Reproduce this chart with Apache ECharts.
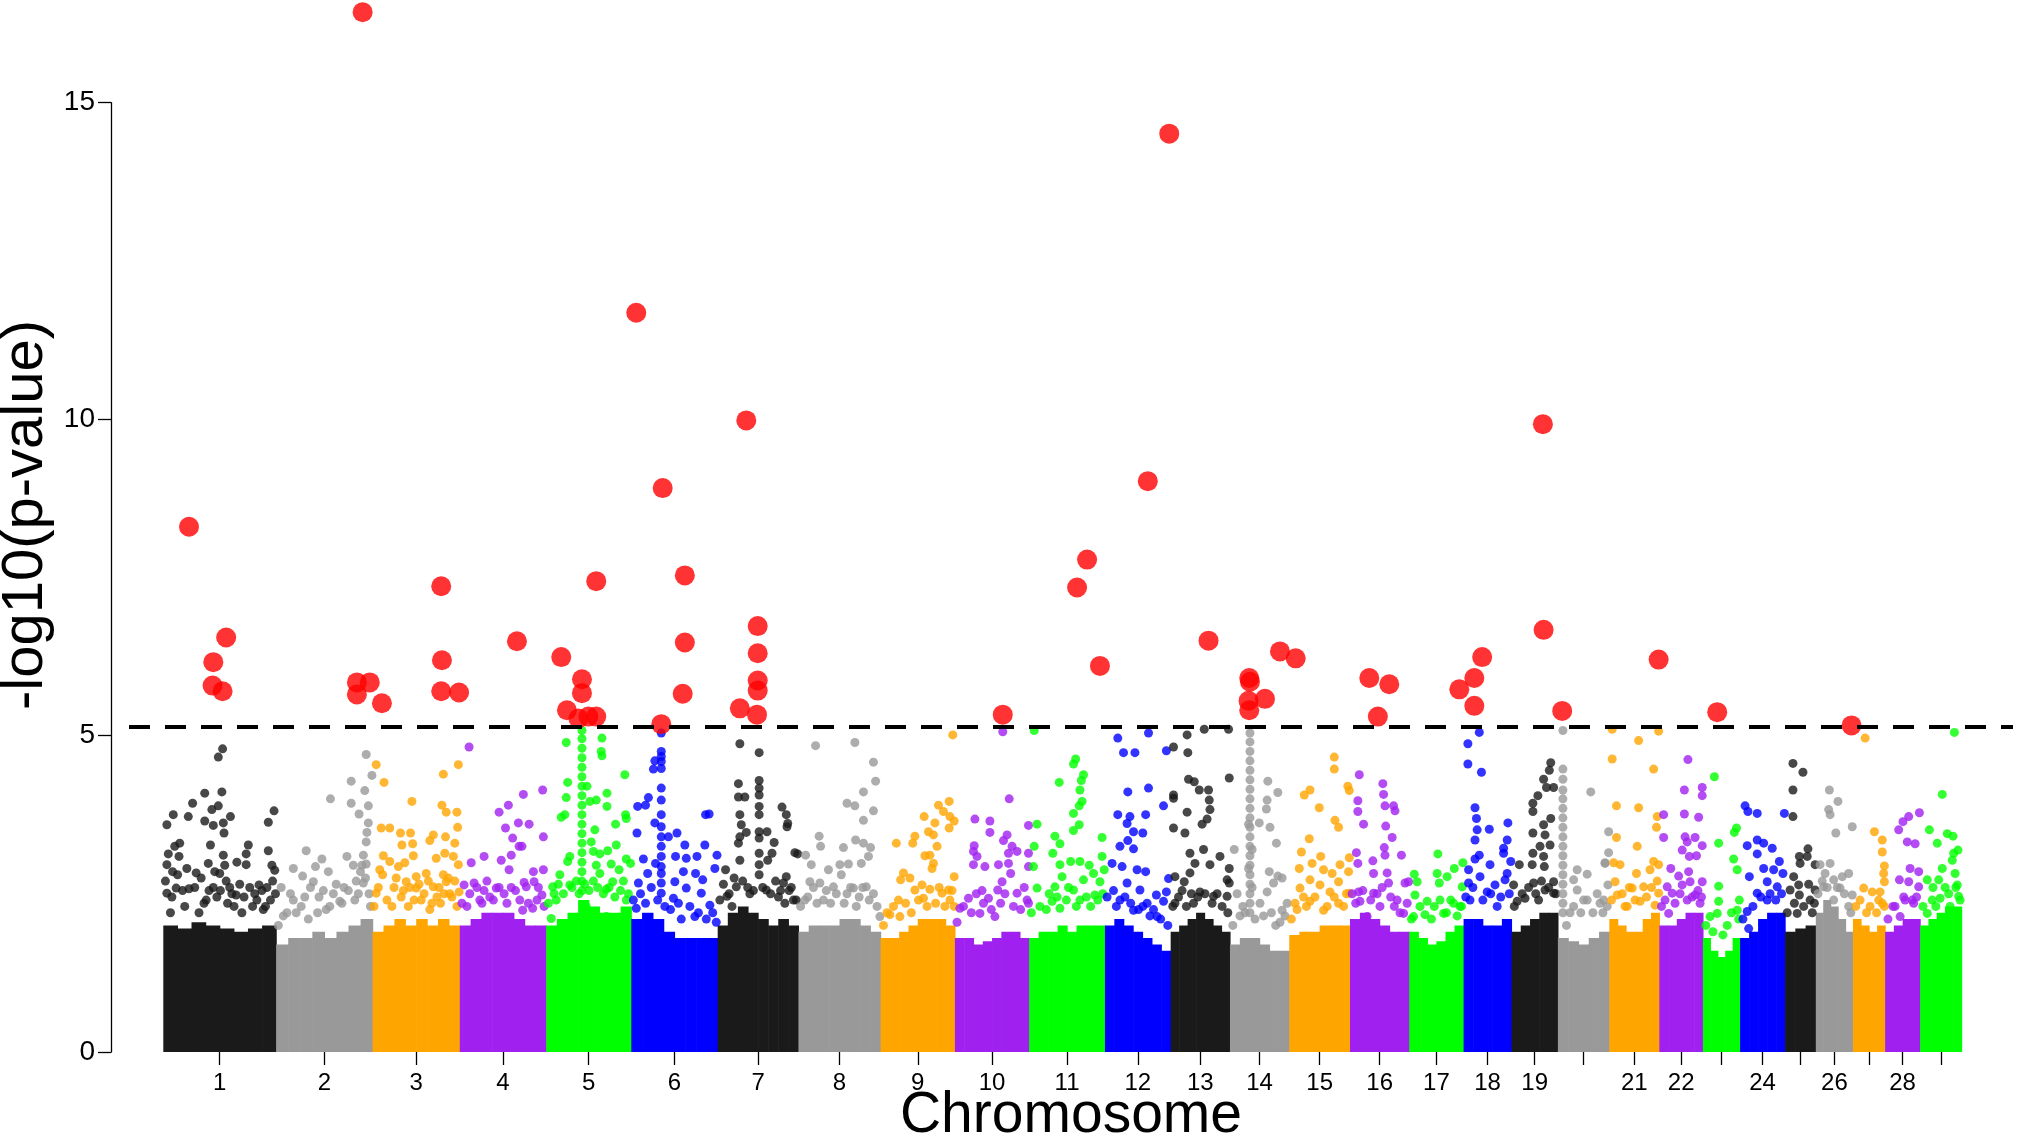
<!DOCTYPE html>
<html>
<head>
<meta charset="utf-8">
<script src="https://cdn.jsdelivr.net/npm/echarts@6/dist/echarts.min.js"></script>
<style>
html,body{margin:0;padding:0;background:#ffffff;}
#chart{width:2017px;height:1138px;}
</style>
</head>
<body>
<div id="chart"></div>
<script>
// ---------------- DATA ----------------
const chromNames = ['1','2','3','4','5','6','7','8','9','10','11','12','13','14','15','16','17','18','19','20','21','22','23','24','25','26','27','28','29'];
const chromLengthsMb = [158,135,122,121,119,121,113,115,104,104,106,92,83,83,85,83,76,67,65,72,70,61,52,63,43,52,45,49,58];
const labelledChroms = ['1','2','3','4','5','6','7','8','9','10','11','12','13','14','15','16','17','18','19','21','22','24','26','28'];
const yTickValues = [0,5,10,15];
const threshold = 5.14;

// height of the dense (solid) band of SNPs, in bins along each chromosome
const coreHeights = [
  [2.0,1.95,2.05,2.0,1.95,1.9,1.95,2.0],
  [1.7,1.8,1.8,1.9,1.8,1.9,2.0,2.1],
  [1.9,2.0,2.1,2.0,2.1,2.0,2.1,2.0],
  [2.0,2.1,2.2,2.2,2.2,2.1,2.0,2.0],
  [2.0,2.1,2.2,2.4,2.3,2.2,2.2,2.3],
  [2.1,2.2,2.1,1.9,1.8,1.8,1.8,1.8],
  [2.0,2.2,2.3,2.2,2.1,2.0,2.1,2.0],
  [1.9,2.0,2.0,2.0,2.1,2.1,2.0,1.9],
  [1.8,1.8,1.9,2.0,2.1,2.1,2.1,2.0],
  [1.8,1.8,1.7,1.75,1.8,1.9,1.9,1.8],
  [1.8,1.9,1.9,2.0,1.9,2.0,2.0,2.0],
  [2.0,2.1,2.0,1.9,1.8,1.7,1.6],
  [1.9,2.0,2.1,2.2,2.1,2.0,1.9],
  [1.7,1.8,1.8,1.7,1.6,1.6],
  [1.85,1.9,1.9,2.0,2.0,2.0],
  [2.1,2.2,2.1,2.0,1.9,1.9],
  [1.9,1.8,1.7,1.75,1.9,2.0],
  [2.1,2.1,2.0,2.0,2.1],
  [1.9,2.0,2.1,2.2,2.2],
  [1.8,1.75,1.7,1.8,1.9],
  [2.1,2.0,1.9,1.9,2.1,2.2],
  [2.0,2.0,2.1,2.2,2.2],
  [1.8,1.6,1.5,1.6,1.8],
  [1.8,1.9,2.1,2.2,2.2],
  [1.9,1.95,2.0],
  [2.2,2.4,2.3,2.1,1.9],
  [2.1,2.0,1.9,2.0],
  [1.9,2.0,2.1,2.1],
  [2.0,2.1,2.2,2.3,2.3]
];

// scattered SNPs above the dense band: [position in Mb, -log10(p)]
const snpChr1 = [[83,4.79],[77,4.66],[82,4.11],[58,4.09],[41,3.93],[77,3.89],[68,3.83],[155,3.81],[14,3.75],[35,3.72],[94,3.72],[58,3.65],[70,3.58],[84,3.62],[5,3.59],[147,3.63],[85,3.46],[23,3.30],[16,3.25],[66,3.27],[119,3.27],[147,3.18],[7,3.13],[22,3.09],[116,3.13],[84,3.11],[103,3.00],[5,2.96],[63,2.98],[116,2.96],[156,2.87],[46,2.83],[13,2.85],[79,2.82],[134,2.64],[36,2.58],[102,2.48],[5,2.51],[18,2.59],[30,2.3],[60,2.4],[75,2.45],[90,2.35],[110,2.2],[125,2.3],[140,2.25],[150,2.4],[10,2.2],[50,2.2],[70,2.6],[88,2.7],[96,2.5],[128,2.5],[145,2.6],[153,2.7],
  [3,2.7],[12,2.45],[20,2.8],[27,2.55],[33,2.9],[44,2.6],[53,2.75],[57,2.35],[64,2.55],[72,2.85],[80,2.55],[86,2.95],[93,2.6],[99,2.3],[107,2.65],[113,2.45],[121,2.6],[131,2.4],[138,2.55],[143,2.3],[152,2.95],[157,2.5]];
const snpChr2 = [[126,4.70],[134,4.37],[105,4.28],[124,4.13],[76,4.00],[105,3.93],[129,3.89],[116,3.76],[129,3.62],[127,3.47],[126,3.32],[42,3.18],[64,3.05],[99,3.09],[122,3.11],[126,2.97],[55,2.93],[24,2.90],[108,2.95],[73,2.85],[37,2.78],[7,2.60],[52,2.69],[89,2.38],[24,2.40],[122,2.67],[15,2.2],[35,2.3],[60,2.45],[80,2.5],[95,2.6],[112,2.7],[118,2.85],[130,2.5],[45,2.1],[70,2.25],
  [3,2.0],[10,2.15],[20,2.5],[28,2.2],[40,2.45],[48,2.6],[58,2.2],[66,2.55],[75,2.3],[84,2.65],[92,2.35],[101,2.55],[110,2.4],[115,2.5],[120,2.95],[125,2.75],[132,2.3]];
const snpChr3 = [[5,4.54],[16,4.26],[120,4.54],[99,4.39],[55,3.96],[97,3.90],[103,3.79],[118,3.79],[12,3.54],[24,3.54],[39,3.46],[53,3.46],[119,3.55],[85,3.43],[102,3.40],[41,3.27],[56,3.29],[80,3.34],[115,3.30],[15,3.10],[57,3.10],[101,3.14],[24,3.01],[45,2.99],[89,3.06],[113,3.09],[36,2.93],[120,2.96],[75,2.82],[10,2.88],[47,2.69],[61,2.77],[99,2.80],[103,2.69],[5,2.51],[121,2.53],[61,2.59],[85,2.61],[20,2.4],[30,2.6],[40,2.45],[68,2.4],[90,2.45],[108,2.5],[115,2.7],[50,2.3],[80,2.25],[95,2.35],
  [2,2.3],[8,2.6],[14,2.8],[27,2.3],[33,2.75],[43,2.55],[52,2.6],[58,2.4],[65,2.65],[72,2.5],[78,2.7],[83,2.35],[93,2.6],[100,2.5],[106,2.75],[111,2.45],[118,2.3]];
const snpChr4 = [[13,4.82],[89,4.07],[68,3.90],[55,3.79],[82,3.62],[64,3.54],[74,3.38],[83,3.25],[34,3.09],[16,2.99],[72,3.11],[58,3.03],[69,2.88],[6,2.64],[20,2.67],[34,2.55],[51,2.59],[93,2.61],[116,4.14],[97,3.60],[117,3.40],[87,3.25],[103,2.85],[117,2.88],[104,2.69],[90,2.68],[115,2.48],[102,2.27],[88,2.24],[10,2.3],[28,2.4],[42,2.45],[62,2.5],[78,2.55],[108,2.4],
  [3,2.35],[14,2.5],[24,2.6],[31,2.35],[38,2.7],[47,2.4],[55,2.6],[66,2.35],[72,2.6],[84,2.4],[96,2.35],[110,2.6],[118,2.3]];
const snpChr5 = [[50,5.08],[50,4.95],[50,4.80],[50,4.65],[50,4.50],[50,4.35],[50,4.20],[50,4.05],[50,3.90],[50,3.75],[50,3.60],[50,3.45],[50,3.30],[50,3.15],[50,3.00],[50,2.85],[50,2.70],[50,2.55],[28,4.89],[78,4.96],[77,4.75],[78,4.68],[30,4.26],[57,4.20],[28,4.02],[110,4.38],[85,4.09],[70,3.98],[61,3.96],[85,3.88],[21,3.71],[26,3.75],[111,3.75],[112,3.69],[97,3.60],[68,3.51],[63,3.32],[98,3.27],[86,3.18],[66,3.17],[75,3.13],[33,3.09],[112,3.05],[91,2.97],[70,2.95],[30,3.01],[118,2.98],[102,2.88],[75,2.82],[19,2.80],[9,2.61],[93,2.69],[33,2.64],[84,2.57],[14,2.40],[112,2.40],[7,2.11],[56,2.30],[84,2.14],
  [3,2.35],[11,2.5],[17,2.65],[24,2.5],[36,2.6],[42,2.7],[46,2.5],[54,2.65],[60,2.55],[66,2.7],[72,2.6],[80,2.5],[88,2.6],[96,2.45],[104,2.55],[108,2.7],[115,2.5]];
const snpChr6 = [[42,5.04],[42,4.75],[42,4.67],[42,4.59],[42,4.48],[42,4.17],[42,3.98],[42,3.75],[42,3.56],[42,3.40],[42,3.25],[42,3.09],[42,2.93],[42,2.82],[42,2.67],[42,2.51],[31,4.47],[33,4.60],[24,4.02],[20,3.90],[9,3.88],[104,3.75],[109,3.76],[8,3.46],[33,3.62],[52,3.40],[64,3.46],[75,3.27],[103,3.27],[120,3.11],[92,3.09],[62,3.09],[77,3.06],[17,3.05],[34,2.98],[117,2.90],[23,2.82],[73,2.85],[90,2.82],[61,2.69],[100,2.72],[77,2.59],[98,2.51],[59,2.43],[110,2.32],[89,2.14],[7,2.27],[10,2.67],
  [3,2.4],[13,2.5],[20,2.35],[28,2.6],[37,2.4],[47,2.3],[55,2.25],[66,2.35],[70,2.1],[82,2.3],[94,2.2],[105,2.1],[114,2.2],[119,2.05]];
const snpChr7 = [[31,4.87],[58,4.73],[29,4.24],[58,4.29],[58,4.17],[29,4.03],[38,4.03],[58,4.06],[58,3.88],[58,3.75],[90,3.87],[96,3.75],[97,3.56],[31,3.75],[33,3.59],[40,3.47],[69,3.48],[58,3.48],[98,3.61],[31,3.40],[58,3.38],[79,3.31],[29,3.30],[58,3.14],[108,3.15],[112,3.13],[76,3.14],[11,2.88],[31,3.03],[58,2.96],[70,3.03],[96,2.77],[92,2.67],[58,2.80],[13,2.46],[26,2.61],[68,2.56],[106,2.40],[20,2.3],[45,2.5],[85,2.45],[100,2.55],
  [3,2.4],[8,2.65],[16,2.5],[23,2.75],[35,2.7],[42,2.6],[50,2.55],[63,2.6],[74,2.5],[81,2.7],[88,2.55],[94,2.35],[103,2.6],[110,2.4]];
const snpChr8 = [[24,4.84],[79,4.89],[105,4.58],[108,4.28],[91,4.11],[68,3.93],[79,3.89],[105,3.81],[91,3.66],[29,3.41],[31,3.25],[63,3.23],[80,3.35],[91,3.30],[101,3.23],[10,3.11],[18,2.96],[42,2.88],[58,2.96],[70,2.97],[88,2.98],[98,3.09],[16,2.69],[30,2.67],[49,2.61],[60,2.80],[77,2.59],[95,2.61],[114,2.14],[9,2.40],[35,2.4],[68,2.5],[85,2.45],[105,2.5],
  [3,2.3],[13,2.45],[21,2.6],[26,2.35],[39,2.55],[45,2.35],[53,2.5],[64,2.35],[73,2.6],[81,2.3],[90,2.6],[99,2.4],[110,2.3]];
const snpChr9 = [[101,5.01],[96,3.96],[81,3.90],[88,3.80],[61,3.72],[97,3.72],[103,3.65],[76,3.62],[96,3.54],[67,3.48],[48,3.41],[74,3.43],[22,3.30],[45,3.30],[79,3.25],[69,3.11],[62,3.10],[74,2.98],[72,2.90],[32,2.83],[28,2.72],[41,2.75],[103,2.77],[58,2.64],[48,2.56],[69,2.57],[95,2.56],[25,2.40],[60,2.43],[86,2.51],[13,2.17],[97,2.40],[27,2.14],
  [4,2.0],[9,2.2],[18,2.3],[35,2.35],[43,2.2],[53,2.4],[65,2.3],[77,2.35],[82,2.6],[90,2.3],[100,2.55],[103,2.3]];
const snpChr10 = [[67,5.06],[76,4.00],[28,3.68],[49,3.65],[49,3.47],[73,3.43],[103,3.58],[68,3.34],[27,3.26],[80,3.25],[26,3.17],[87,3.17],[75,3.14],[103,3.14],[31,3.09],[61,2.96],[26,2.96],[42,2.93],[75,2.98],[103,2.93],[78,2.82],[66,2.69],[60,2.56],[38,2.55],[87,2.51],[19,2.43],[47,2.43],[101,2.40],[7,2.27],[56,2.14],[35,2.19],
  [3,2.05],[12,2.3],[23,2.2],[30,2.5],[40,2.35],[51,2.25],[64,2.35],[70,2.5],[82,2.3],[92,2.25],[97,2.6],[103,2.35]];
const snpChr11 = [[7,5.08],[65,4.63],[62,4.55],[76,4.38],[73,4.29],[42,4.26],[71,4.14],[74,3.96],[70,3.89],[62,3.77],[70,3.59],[62,3.50],[11,3.60],[36,3.41],[102,3.39],[7,3.25],[43,3.29],[33,3.14],[102,3.09],[6,2.93],[43,2.96],[58,3.01],[71,3.01],[84,2.95],[105,2.88],[46,2.77],[76,2.72],[90,2.82],[99,2.69],[11,2.59],[36,2.61],[62,2.56],[92,2.48],[32,2.38],[71,2.40],[43,2.27],
  [3,2.2],[15,2.3],[24,2.25],[28,2.5],[39,2.45],[52,2.4],[55,2.6],[66,2.3],[80,2.45],[86,2.3],[96,2.4],[103,2.5]];
const snpChr12 = [[18,4.96],[61,5.04],[26,4.73],[42,4.73],[86,4.76],[32,4.11],[61,4.17],[82,3.89],[18,3.75],[35,3.72],[57,3.75],[31,3.61],[40,3.48],[53,3.46],[32,3.34],[21,3.25],[40,3.21],[10,2.98],[24,2.93],[45,2.88],[57,2.85],[89,2.74],[31,2.67],[49,2.56],[72,2.48],[86,2.53],[21,2.40],[59,2.35],[82,2.38],[40,2.24],[73,2.14],
  [3,2.45],[12,2.55],[16,2.3],[28,2.45],[36,2.35],[47,2.25],[53,2.3],[63,2.15],[68,2.25],[78,2.1],[88,2.0]];
const snpChr13 = [[23,5.01],[47,5.10],[81,5.10],[4,4.82],[24,4.73],[82,4.33],[25,4.31],[33,4.27],[40,4.14],[53,4.14],[4,4.06],[4,4.01],[54,3.98],[55,3.83],[23,3.79],[51,3.68],[44,3.60],[4,3.54],[20,3.46],[27,3.14],[46,3.20],[69,3.09],[34,2.98],[55,2.96],[82,2.90],[27,2.83],[6,2.77],[79,2.72],[19,2.69],[82,2.67],[41,2.53],[60,2.46],[6,2.35],[32,2.35],[79,2.46],
  [3,2.3],[11,2.45],[16,2.55],[22,2.3],[29,2.5],[38,2.45],[48,2.5],[58,2.35],[65,2.5],[72,2.3],[80,2.2]];
const snpChr14 = [[28,5.04],[28,4.90],[28,4.75],[28,4.60],[28,4.45],[28,4.30],[28,4.15],[28,4.00],[28,3.85],[28,3.70],[28,3.55],[28,3.40],[28,3.25],[28,3.10],[28,2.95],[28,2.80],[28,2.65],[28,2.50],[28,2.35],[28,2.20],[26,3.6],[31,3.2],[26,2.9],[31,2.6],[6,3.20],[53,4.28],[67,4.10],[52,3.98],[51,3.84],[41,3.62],[56,3.55],[65,3.30],[55,2.85],[67,2.78],[73,2.75],[61,2.67],[52,2.53],[80,2.35],[73,2.24],[42,2.35],[10,2.5],[18,2.3],
  [4,2.0],[14,2.15],[21,2.2],[35,2.1],[47,2.15],[58,2.2],[64,2.0],[70,2.05],[77,2.15]];
const snpChr15 = [[63,4.66],[63,4.47],[29,4.14],[21,4.06],[82,4.20],[84,4.13],[42,3.86],[64,3.66],[69,3.55],[28,3.37],[17,3.16],[44,3.09],[84,3.07],[32,2.98],[71,2.96],[14,2.90],[48,2.88],[60,2.82],[83,2.85],[29,2.72],[43,2.64],[69,2.69],[15,2.59],[57,2.53],[84,2.51],[8,2.35],[29,2.38],[69,2.35],[48,2.24],
  [3,2.1],[11,2.25],[20,2.45],[24,2.3],[36,2.45],[53,2.3],[63,2.45],[76,2.3],[80,2.5]];
const snpChr16 = [[13,4.38],[46,4.24],[47,4.07],[11,3.97],[11,3.80],[49,3.89],[61,3.89],[63,3.81],[19,3.60],[50,3.57],[59,3.39],[48,3.23],[9,3.15],[72,3.11],[49,3.11],[11,2.98],[32,3.02],[52,2.83],[33,2.82],[77,2.67],[82,2.69],[54,2.67],[12,2.53],[33,2.51],[66,2.40],[14,2.38],[42,2.30],[75,2.19],[24,2.14],
  [3,2.5],[8,2.35],[18,2.55],[29,2.4],[38,2.5],[45,2.6],[57,2.45],[62,2.3],[70,2.2],[80,2.35]];
const snpChr17 = [[40,3.13],[75,2.99],[63,2.90],[7,2.81],[39,2.82],[11,2.69],[53,2.77],[74,2.61],[42,2.67],[8,2.48],[25,2.38],[43,2.40],[62,2.35],[6,2.14],[22,2.17],[48,2.19],[71,2.30],
  [3,2.1],[15,2.3],[31,2.1],[35,2.3],[52,2.2],[58,2.4],[67,2.15],[73,2.3]];
const snpChr18 = [[22,5.05],[6,4.87],[6,4.55],[25,4.42],[16,3.86],[18,3.69],[19,3.51],[16,3.35],[36,3.52],[62,3.62],[61,3.35],[56,3.22],[56,3.14],[22,3.11],[16,3.05],[37,2.96],[66,3.01],[7,2.88],[23,2.77],[61,2.82],[44,2.64],[7,2.67],[58,2.72],[33,2.53],[47,2.30],[9,2.40],
  [3,2.45],[13,2.6],[27,2.4],[38,2.5],[52,2.45],[64,2.5]];
const snpChr19 = [[55,4.57],[53,4.45],[45,4.31],[59,4.18],[49,4.18],[37,4.05],[30,3.93],[30,3.80],[55,3.69],[45,3.59],[47,3.43],[30,3.46],[54,3.27],[40,3.25],[30,3.14],[45,3.09],[11,2.96],[29,2.96],[46,2.93],[59,2.69],[3,2.64],[31,2.67],[47,2.56],[8,2.38],[19,2.43],[38,2.40],[59,2.51],
  [4,2.3],[15,2.5],[24,2.6],[34,2.5],[42,2.7],[52,2.6],[62,2.5]];
const snpChr20 = [[7,5.08],[7,4.47],[7,4.31],[7,4.14],[7,4.00],[7,3.85],[7,3.70],[7,3.55],[7,3.40],[7,3.25],[7,3.10],[7,2.95],[7,2.80],[7,2.65],[7,2.50],[7,2.35],[7,2.20],[46,4.11],[41,2.81],[27,2.88],[22,2.72],[66,2.98],[27,2.56],[41,2.40],[59,2.35],[22,2.30],[71,3.15],[71,3.48],[66,2.99],[70,2.64],[64,2.40],
  [12,2.0],[17,2.2],[32,2.2],[36,2.4],[49,2.2],[55,2.5],[63,2.2],[69,2.3]];
const snpChr21 = [[4,5.10],[69,5.07],[41,4.92],[4,4.63],[62,4.47],[10,3.89],[41,3.86],[67,3.72],[66,3.55],[10,3.39],[39,3.25],[6,2.99],[15,2.96],[62,3.01],[69,2.96],[38,2.82],[57,2.88],[8,2.69],[48,2.61],[32,2.59],[69,2.51],[11,2.48],[43,2.38],[64,2.32],[25,2.30],
  [3,2.4],[18,2.5],[22,2.3],[28,2.6],[36,2.4],[52,2.45],[59,2.6],[67,2.7]];
const snpChr22 = [[40,4.62],[35,4.14],[60,4.18],[60,4.05],[6,3.75],[35,3.76],[55,3.71],[6,3.39],[36,3.40],[50,3.39],[39,3.32],[32,3.19],[60,3.26],[42,3.09],[52,3.10],[16,2.90],[41,2.85],[27,2.78],[60,2.69],[43,2.69],[11,2.61],[32,2.64],[50,2.48],[18,2.51],[39,2.40],[13,2.19],[57,2.35],
  [3,2.3],[8,2.4],[22,2.35],[29,2.5],[46,2.45],[54,2.55],[59,2.45]];
const snpChr23 = [[16,4.35],[47,3.54],[44,3.47],[22,3.30],[43,3.05],[48,2.88],[22,2.62],[22,2.38],[51,2.40],[20,2.19],[48,2.24],[10,2.14],
  [4,2.0],[14,1.9],[28,1.85],[34,2.0],[40,2.2],[50,2.1]];
const snpChr24 = [[7,3.89],[11,3.80],[24,3.77],[62,3.77],[10,3.26],[24,3.35],[33,3.30],[45,3.22],[24,3.13],[55,3.01],[33,2.90],[47,2.88],[13,2.77],[60,2.82],[38,2.69],[52,2.61],[24,2.51],[10,2.22],[38,2.40],[12,1.95],
  [4,2.1],[18,2.3],[29,2.45],[42,2.5],[50,2.4],[58,2.5]];
const snpChr25 = [[11,4.56],[25,4.42],[11,4.14],[11,3.72],[32,3.21],[20,3.09],[31,3.09],[21,2.98],[42,2.96],[12,2.77],[19,2.64],[33,2.65],[42,2.56],[20,2.48],[7,2.56],[35,2.40],[17,2.19],
  [3,2.2],[13,2.35],[26,2.3],[38,2.2],[41,2.35]];
const snpChr26 = [[19,4.14],[31,3.96],[18,3.83],[20,3.75],[51,3.56],[28,3.46],[6,2.96],[20,2.98],[46,2.82],[25,2.72],[37,2.77],[13,2.82],[51,2.48],[11,2.61],[34,2.59],[25,2.40],[46,2.30],
  [3,2.5],[9,2.7],[16,2.6],[30,2.6],[40,2.5],[49,2.2]];
const snpChr27 = [[17,4.96],[30,3.48],[41,3.35],[41,3.16],[44,2.94],[43,2.82],[44,2.69],[15,2.59],[27,2.53],[38,2.53],[10,2.40],[24,2.30],[41,2.35],
  [4,2.3],[19,2.2],[33,2.2],[36,2.4],[44,2.3]];
const snpChr28 = [[48,3.78],[33,3.72],[25,3.64],[19,3.51],[31,3.32],[42,3.29],[35,2.90],[47,2.85],[20,2.72],[33,2.69],[47,2.61],[11,2.30],[28,2.40],[40,2.35],[21,2.14],
  [4,2.1],[14,2.3],[26,2.45],[38,2.4],[44,2.45]];
const snpChr29 = [[48,5.05],[31,4.07],[13,3.51],[38,3.45],[46,3.41],[24,3.30],[53,3.19],[47,3.14],[45,3.03],[31,2.90],[10,2.72],[26,2.72],[49,2.82],[52,2.64],[17,2.40],[28,2.43],[54,2.46],[42,2.30],[10,2.19],
  [4,2.3],[18,2.6],[22,2.3],[35,2.6],[40,2.5],[50,2.6],[56,2.4]];

// significant SNPs above the threshold: [chromosome, position in Mb, -log10(p)]
const hits = [
  [1,36,8.30],[1,70,6.16],[1,69,5.79],[1,88,6.55],[1,83,5.70],
  [2,121,16.43],[2,113,5.84],[2,131,5.84],[2,113,5.65],
  [3,13,5.51],[3,96,7.36],[3,97,6.19],[3,96,5.70],[3,121,5.68],
  [4,80,6.49],
  [5,21,6.24],[5,29,5.40],[5,50,5.89],[5,50,5.67],[5,45,5.27],[5,59,5.30],[5,70,5.30],[5,70,7.44],
  [6,7,11.68],[6,44,8.91],[6,75,7.53],[6,75,6.47],[6,72,5.66],[6,42,5.18],
  [7,40,9.98],[7,56,6.73],[7,56,6.30],[7,56,5.87],[7,56,5.71],[7,55,5.33],[7,31,5.43],
  [10,67,5.33],
  [11,67,7.34],[11,81,7.78],[11,99,6.10],
  [12,60,9.02],[12,90,14.51],
  [13,53,6.50],
  [14,27,5.91],[14,28,5.85],[14,26,5.55],[14,27,5.40],[14,49,5.58],[14,70,6.33],
  [15,9,6.22],
  [16,27,5.91],[16,39,5.30],[16,55,5.81],
  [17,70,5.73],
  [18,15,5.91],[18,15,5.47],[18,26,6.24],
  [19,44,9.92],[19,45,6.67],
  [20,6,5.39],
  [21,69,6.20],
  [23,20,5.37],
  [26,50,5.16]
];

const snpByChrom = [snpChr1,snpChr2,snpChr3,snpChr4,snpChr5,snpChr6,snpChr7,snpChr8,snpChr9,snpChr10,snpChr11,snpChr12,snpChr13,snpChr14,snpChr15,snpChr16,snpChr17,snpChr18,snpChr19,snpChr20,snpChr21,snpChr22,snpChr23,snpChr24,snpChr25,snpChr26,snpChr27,snpChr28,snpChr29];

// ---------------- BUILD ----------------
const palette = ['#1a1a1a','#999999','#ffa500','#a020f0','#00ff00','#0000ff'];
const FONT = '"Liberation Sans", Arial, Helvetica, sans-serif';

const offsets = [];
let acc = 0;
chromLengthsMb.forEach(function (len) { offsets.push(acc); acc += len; });
const centers = chromLengthsMb.map(function (len, i) { return offsets[i] + len / 2; });
const labelMap = {};
centers.forEach(function (c, i) { labelMap[c.toFixed(1)] = chromNames[i]; });
const labelCenters = labelledChroms.map(function (n) { return centers[chromNames.indexOf(n)]; });

const coreData = [];
coreHeights.forEach(function (bins, ci) {
  const w = chromLengthsMb[ci] / bins.length;
  bins.forEach(function (h, bi) {
    coreData.push([offsets[ci] + bi * w, offsets[ci] + (bi + 1) * w, h, ci % palette.length]);
  });
});

const snpData = [];
snpByChrom.forEach(function (arr, ci) {
  arr.forEach(function (p) {
    snpData.push({ value: [offsets[ci] + p[0], p[1]], itemStyle: { color: palette[ci % palette.length] } });
  });
});

const hitData = hits.map(function (h) { return [offsets[h[0] - 1] + h[1], h[2]]; });

const chart = echarts.init(document.getElementById('chart'), null, { renderer: 'canvas' });

const option = {
  animation: false,
  backgroundColor: '#ffffff',
  textStyle: { fontFamily: FONT, color: '#000' },
  grid: [
    { left: 129, right: 4, top: -22, bottom: 86, containLabel: false, outerBoundsMode: 'none' },
    { left: 111, right: 4, top: 102.7, bottom: 86, containLabel: false, outerBoundsMode: 'none' }
  ],
  xAxis: [
    {
      type: 'value', gridIndex: 0, min: -48, max: 2589,
      axisLine: { show: false, onZero: false },
      splitLine: { show: false },
      axisTick: { show: true, customValues: centers, length: 13, lineStyle: { color: '#000', width: 1.3 } },
      axisLabel: {
        show: true, customValues: labelCenters, margin: 19, fontSize: 24, color: '#000', fontFamily: FONT,
        formatter: function (v) { return labelMap[(+v).toFixed(1)] || ''; }
      },
      name: 'Chromosome', nameLocation: 'middle', nameGap: 36, nameMoveOverlap: false,
      nameTextStyle: { fontSize: 57, color: '#000', fontFamily: FONT, verticalAlign: 'top' }
    },
    { type: 'value', gridIndex: 1, min: 0, max: 1, show: false }
  ],
  yAxis: [
    {
      type: 'value', gridIndex: 0, min: 0, max: 16.97,
      axisLine: { show: false, onZero: false }, axisTick: { show: false }, axisLabel: { show: false },
      splitLine: { show: false },
      name: '-log10(p-value)', nameLocation: 'middle', nameGap: 74, nameMoveOverlap: false,
      nameTextStyle: { fontSize: 58, color: '#000', fontFamily: FONT }
    },
    {
      type: 'value', gridIndex: 1, min: 0, max: 15, interval: 5,
      axisLine: { show: true, onZero: false, lineStyle: { color: '#000', width: 1.3 } },
      axisTick: { show: true, length: 13, lineStyle: { color: '#000', width: 1.3 } },
      axisLabel: { show: true, customValues: yTickValues, margin: 16, fontSize: 28, color: '#000', fontFamily: FONT },
      splitLine: { show: false }
    }
  ],
  series: [
    {
      type: 'custom', xAxisIndex: 0, yAxisIndex: 0, silent: true, z: 1,
      encode: { x: [0, 1], y: 2 },
      data: coreData,
      renderItem: function (params, api) {
        const p0 = api.coord([api.value(0), api.value(2)]);
        const p1 = api.coord([api.value(1), 0]);
        return {
          type: 'rect',
          shape: { x: p0[0], y: p0[1], width: p1[0] - p0[0] + 0.6, height: p1[1] - p0[1] },
          style: { fill: palette[api.value(3)] }
        };
      }
    },
    {
      type: 'scatter', xAxisIndex: 0, yAxisIndex: 0, silent: true, z: 2,
      symbol: 'circle', symbolSize: 9, data: snpData
    },
    {
      type: 'scatter', xAxisIndex: 0, yAxisIndex: 0, silent: true, z: 3,
      symbol: 'circle', symbolSize: 20, itemStyle: { color: '#ff0000' },
      data: hitData,
      markLine: {
        silent: true, symbol: ['none', 'none'], animation: false,
        label: { show: false },
        lineStyle: { color: '#000', width: 4, type: [21, 15] },
        emphasis: { disabled: true },
        data: [{ yAxis: threshold }]
      }
    }
  ]
};
chart.setOption(option);
</script>
</body>
</html>
